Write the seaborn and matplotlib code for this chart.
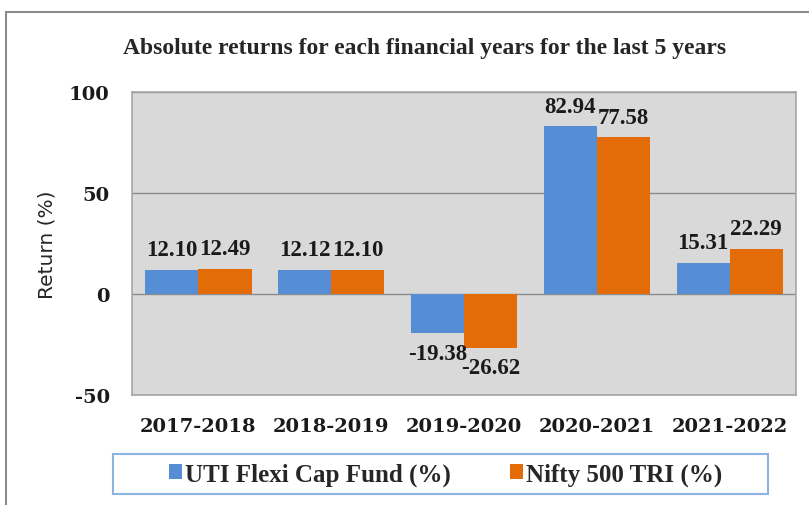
# -*- coding: utf-8 -*-

## Libraries ##

import pandas as pd
import matplotlib.pyplot as plt
import seaborn as sns
from matplotlib.patches import Rectangle

## Data ##

years = ["2017-2018", "2018-2019", "2019-2020", "2020-2021", "2021-2022"]
uti_flexi = [12.10, 12.12, -19.38, 82.94, 15.31]
nifty_500 = [12.49, 12.10, -26.62, 77.58, 22.29]
series_names = ["UTI Flexi Cap Fund (%)", "Nifty 500 TRI (%)"]
y_ticks = [-50, 0, 50, 100]

df = pd.DataFrame({"Year": years * 2,
                   "Return": uti_flexi + nifty_500,
                   "Series": [series_names[0]] * 5 + [series_names[1]] * 5})

## Plot ##

sns.set_style("white")
plt.rcParams["axes.unicode_minus"] = False
colors = {series_names[0]: "#558ED5", series_names[1]: "#E36C09"}
serif = "DejaVu Serif"
narrow = "Liberation Serif"

fig = plt.figure(figsize=(8.09, 5.06), dpi=100)
ax = fig.add_axes([0.1632, 0.2174, 0.8208, 0.5988])
ax.set_facecolor("#D9D9D9")

sns.barplot(data=df, x="Year", y="Return", hue="Series", palette=colors,
            width=0.8, saturation=1, linewidth=0, ax=ax, zorder=3)

for c in ax.containers:
    ax.bar_label(c, fmt="%.2f", padding=7, fontsize=16.5, fontweight="bold",
                 family=narrow, color="#1a1a1a")

ax.set_ylim(-50, 100)
ax.set_yticks(y_ticks)
ax.yaxis.grid(True, color="#8C8C8C", linewidth=1, zorder=0)
ax.set_axisbelow(True)
for s in ax.spines.values():
    s.set_color("#A6A6A6")
    s.set_linewidth(1.2)
ax.tick_params(axis="x", length=0, pad=16)
ax.tick_params(axis="y", length=0, pad=16)
for lbl in ax.get_xticklabels() + ax.get_yticklabels():
    lbl.set_family(serif)
    lbl.set_fontweight("bold")
    lbl.set_fontsize(14)
    lbl.set_color("#1a1a1a")

ax.set_xlabel("")
ax.set_ylabel("Return (%)", fontsize=14.5, family="DejaVu Sans")
ax.yaxis.set_label_coords(-0.113, 0.5)

fig.text(0.5253, 0.905, "Absolute returns for each financial years for the last 5 years",
         ha="center", va="center", fontsize=17, fontweight="bold", family=narrow)

handles, labels = ax.get_legend_handles_labels()
ax.legend_.remove()
leg = fig.legend(handles, labels, loc="center", bbox_to_anchor=(0.5507, 0.0613),
                 ncol=2, frameon=False,
                 prop={"family": narrow, "weight": "bold", "size": 18},
                 handlelength=0.52, handleheight=0.52, handletextpad=0.12,
                 columnspacing=2.36, borderpad=0.3)

# legend box
fig.patches.append(Rectangle((113 / 809, 1 - 495 / 506), 655 / 809, 40 / 506,
                             transform=fig.transFigure, fill=False,
                             edgecolor="#8DB3E2", linewidth=1.5))

# outer chart frame
fig.patches.append(Rectangle((6 / 809, -0.05), 1.0, 1 - 13 / 506 + 0.05,
                             transform=fig.transFigure, fill=False,
                             edgecolor="#8C8C8C", linewidth=1.5))

plt.savefig("out.png", dpi=100)
